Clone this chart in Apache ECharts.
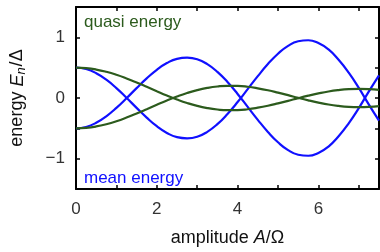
<!DOCTYPE html>
<html>
<head>
<meta charset="utf-8">
<script src="https://cdn.jsdelivr.net/npm/echarts@6/dist/echarts.min.js"></script>
<style>
  html, body { margin: 0; padding: 0; background: #fff; }
  #main { width: 380px; height: 252px; }
</style>
</head>
<body>
<div id="main"></div>
<script>
// amplitude A/Omega
var amp = [0, 0.25, 0.5, 0.75, 1, 1.25, 1.5, 1.75, 2, 2.25, 2.5, 2.75, 3, 3.25, 3.5, 3.75,
           4, 4.25, 4.5, 4.75, 5, 5.25, 5.5, 5.75, 6, 6.25, 6.5, 6.75, 7, 7.25, 7.5];
// mean energy, upper and lower branch
var meanUp = [0.5, 0.477, 0.409, 0.301, 0.163, 0.004, -0.163, -0.323, -0.465, -0.576, -0.646, -0.665,
              -0.639, -0.558, -0.431, -0.263, -0.067, 0.147, 0.36, 0.559, 0.73, 0.86, 0.935, 0.952,
              0.905, 0.8, 0.63, 0.418, 0.167, -0.109, -0.374];
var meanDown = [-0.5, -0.477, -0.409, -0.301, -0.163, -0.004, 0.163, 0.323, 0.465, 0.576, 0.646, 0.665,
                0.639, 0.558, 0.431, 0.263, 0.067, -0.147, -0.36, -0.559, -0.73, -0.86, -0.935, -0.952,
                -0.905, -0.8, -0.63, -0.418, -0.167, 0.109, 0.374];
// quasi energy, upper and lower branch
var quasiUp = [0.5, 0.492, 0.469, 0.432, 0.383, 0.323, 0.256, 0.185, 0.112, 0.041, -0.024, -0.082,
               -0.13, -0.166, -0.19, -0.201, -0.199, -0.185, -0.16, -0.128, -0.089, -0.047, -0.003, 0.038,
               0.075, 0.107, 0.13, 0.145, 0.15, 0.146, 0.133];
var quasiDown = [-0.5, -0.492, -0.469, -0.432, -0.383, -0.323, -0.256, -0.185, -0.112, -0.041, 0.024, 0.082,
                 0.13, 0.166, 0.19, 0.201, 0.199, 0.185, 0.16, 0.128, 0.089, 0.047, 0.003, -0.038,
                 -0.075, -0.107, -0.13, -0.145, -0.15, -0.146, -0.133];
var xLabels = [0, 2, 4, 6];
var yLabels = [-1, 0, 1];

var blue = "#1010ff";
var green = "#2c5b1d";
var font = "Liberation Sans";

function pairs(ys) {
    return amp.map(function (x, i) { return [x, ys[i]]; });
}

function line(ys, color) {
    return {
        type: "line",
        data: pairs(ys),
        smooth: true,
        showSymbol: false,
        animation: false,
        lineStyle: { color: color, width: 2.2 },
        z: color === blue ? 3 : 4,
    };
}

var frame = { show: true, onZero: false, lineStyle: { color: "#000", width: 2 } };
var ticks = { show: true, inside: true, length: 4, lineStyle: { color: "#000", width: 1.5 } };

var myChart = echarts.init(document.getElementById("main"));

var option = {
    grid: { left: 76, right: 1, top: 7, bottom: 56 },
    xAxis: [
        {
            type: "value",
            min: 0,
            max: 7.5,
            interval: 1,
            splitLine: { show: false },
            axisLine: frame,
            axisTick: ticks,
            axisLabel: {
                color: "#333",
                fontFamily: font,
                fontSize: 17,
                margin: 12,
                showMaxLabel: false,
                formatter: function (v) { return xLabels.indexOf(v) >= 0 ? String(v) : ""; },
            },
            name: "amplitude {i|A}/Ω",
            nameLocation: "middle",
            nameGap: 40,
            nameTextStyle: {
                color: "#111",
                fontFamily: font,
                fontSize: 18,
                rich: { i: { fontStyle: "italic", fontFamily: font, fontSize: 18, color: "#111" } },
            },
        },
        {
            type: "value",
            position: "top",
            min: 0,
            max: 7.5,
            interval: 1,
            splitLine: { show: false },
            axisLine: frame,
            axisTick: ticks,
            axisLabel: { show: false },
        },
    ],
    yAxis: [
        {
            type: "value",
            min: -1.5,
            max: 1.5,
            interval: 0.5,
            splitLine: { show: false },
            axisLine: frame,
            axisTick: ticks,
            axisLabel: {
                color: "#333",
                fontFamily: font,
                fontSize: 17,
                margin: 11,
                formatter: function (v) {
                    if (yLabels.indexOf(v) < 0) return "";
                    return v < 0 ? "\u2212" + Math.abs(v) : String(v);
                },
            },
            name: "energy {i|E}{s|n}/Δ",
            nameLocation: "middle",
            nameGap: 48,
            nameTextStyle: {
                color: "#111",
                fontFamily: font,
                fontSize: 18,
                rich: {
                    i: { fontStyle: "italic", fontFamily: font, fontSize: 18, color: "#111" },
                    s: { fontStyle: "italic", fontFamily: font, fontSize: 13, color: "#111", padding: [8, 1, 0, 0] },
                },
            },
        },
        {
            type: "value",
            position: "right",
            min: -1.5,
            max: 1.5,
            interval: 0.5,
            splitLine: { show: false },
            axisLine: frame,
            axisTick: ticks,
            axisLabel: { show: false },
        },
    ],
    graphic: [
        {
            type: "text",
            left: 84,
            top: 14,
            style: { text: "quasi energy", fill: green, font: "17px " + font },
        },
        {
            type: "text",
            left: 84,
            top: 170,
            style: { text: "mean energy", fill: blue, font: "17px " + font },
        },
    ],
    series: [
        line(meanUp, blue),
        line(meanDown, blue),
        line(quasiUp, green),
        line(quasiDown, green),
    ],
};

myChart.setOption(option);
</script>
</body>
</html>
